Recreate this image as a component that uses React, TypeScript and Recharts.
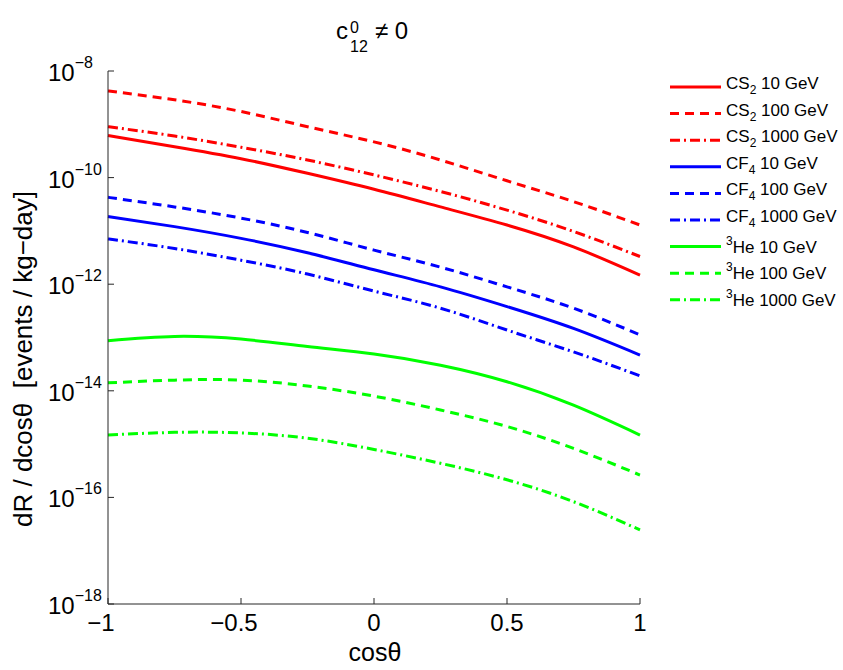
import { LineChart, Line, XAxis, YAxis } from 'recharts';

// cos(theta) sample positions
const cosTheta = [-1, -0.75, -0.5, -0.25, 0, 0.25, 0.5, 0.75, 1];

// log10 of dR/dcos(theta) [events / kg-day]
const cs2_10 = [-9.21, -9.42, -9.645, -9.92, -10.22, -10.55, -10.89, -11.3, -11.83];
const cs2_100 = [-8.375, -8.54, -8.76, -9.045, -9.33, -9.67, -10.06, -10.45, -10.89];
const cs2_1000 = [-9.045, -9.22, -9.43, -9.67, -9.95, -10.26, -10.61, -11.01, -11.48];
const cf4_10 = [-10.73, -10.92, -11.14, -11.41, -11.73, -12.05, -12.42, -12.83, -13.33];
const cf4_100 = [-10.37, -10.55, -10.76, -11.03, -11.36, -11.68, -12.05, -12.45, -12.95];
const cf4_1000 = [-11.15, -11.33, -11.55, -11.81, -12.13, -12.45, -12.86, -13.27, -13.72];
const he3_10 = [-13.06, -12.98, -13.03, -13.17, -13.31, -13.52, -13.83, -14.27, -14.83];
const he3_100 = [-13.85, -13.8, -13.8, -13.91, -14.1, -14.36, -14.67, -15.08, -15.58];
const he3_1000 = [-14.83, -14.78, -14.79, -14.89, -15.1, -15.36, -15.67, -16.08, -16.61];

const xTicks = [-1, -0.5, 0, 0.5, 1];
const yTicks = [1e-18, 1e-16, 1e-14, 1e-12, 1e-10, 1e-8];

// legend text pieces: base, sub/superscript, rest
const series = [
  { key: 'cs2_10', values: cs2_10, color: '#ff0000', dash: undefined, pre: 'CS', script: '2', post: ' 10 GeV', sup: false },
  { key: 'cs2_100', values: cs2_100, color: '#ff0000', dash: '9 6', pre: 'CS', script: '2', post: ' 100 GeV', sup: false },
  { key: 'cs2_1000', values: cs2_1000, color: '#ff0000', dash: '10 4 2 4', pre: 'CS', script: '2', post: ' 1000 GeV', sup: false },
  { key: 'cf4_10', values: cf4_10, color: '#0000ff', dash: undefined, pre: 'CF', script: '4', post: ' 10 GeV', sup: false },
  { key: 'cf4_100', values: cf4_100, color: '#0000ff', dash: '9 6', pre: 'CF', script: '4', post: ' 100 GeV', sup: false },
  { key: 'cf4_1000', values: cf4_1000, color: '#0000ff', dash: '10 4 2 4', pre: 'CF', script: '4', post: ' 1000 GeV', sup: false },
  { key: 'he3_10', values: he3_10, color: '#00ff00', dash: undefined, pre: '', script: '3', post: 'He 10 GeV', sup: true },
  { key: 'he3_100', values: he3_100, color: '#00ff00', dash: '9 6', pre: '', script: '3', post: 'He 100 GeV', sup: true },
  { key: 'he3_1000', values: he3_1000, color: '#00ff00', dash: '10 4 2 4', pre: '', script: '3', post: 'He 1000 GeV', sup: true },
];

const rows = cosTheta.map((c, i) => {
  const row: Record<string, number> = { c };
  series.forEach((s) => {
    row[s.key] = Math.pow(10, s.values[i]);
  });
  return row;
});

const FONT = '"Liberation Sans", Arial, Helvetica, sans-serif';
const AXIS = '#262626';
const LW = 3;

function BottomTick(props: any) {
  const { x, y, payload } = props;
  const v = payload.value as number;
  const digits = String(Math.abs(v));
  let w = 0;
  for (const ch of digits) w += ch === '.' ? 6.7 : 13.35;
  return (
    <g>
      <line x1={x} x2={x} y1={y} y2={y - 6} stroke={AXIS} />
      <text x={x + w / 2} y={y + 27} textAnchor="end" fontSize={24} fontFamily={FONT} fill="#000">
        {(v < 0 ? '\u2212' : '') + digits}
      </text>
    </g>
  );
}

function TopTick(props: any) {
  const { x, y } = props;
  return <line x1={x} x2={x} y1={y} y2={y + 6} stroke={AXIS} />;
}

function LeftTick(props: any) {
  const { x, y, payload } = props;
  const exp = Math.round(Math.log10(payload.value));
  return (
    <g>
      <line x1={x} x2={x + 6} y1={y} y2={y} stroke={AXIS} />
      <text x={x - 60} y={y + 10} fontSize={24} fontFamily={FONT} fill="#000">
        10
        <tspan dy={-13} fontSize={16}>
          {'\u2212' + Math.abs(exp)}
        </tspan>
      </text>
    </g>
  );
}

function RightTick(props: any) {
  const { x, y } = props;
  return <line x1={x} x2={x - 6} y1={y} y2={y} stroke={AXIS} />;
}

export default function App() {
  return (
    <div style={{ position: 'absolute', left: 0, top: 0, width: 843, height: 670, background: '#fff' }}>
      <LineChart width={843} height={670} data={rows} margin={{ top: 71, right: 203, bottom: 36, left: 48 }}>
        <XAxis
          xAxisId="b"
          dataKey="c"
          type="number"
          domain={[-1, 1]}
          ticks={xTicks}
          interval={0}
          height={30}
          tickSize={0}
          tickMargin={0}
          tickLine={false}
          tick={(p: any) => <BottomTick {...p} />}
          axisLine={{ stroke: AXIS }}
        />
        <XAxis
          xAxisId="t"
          orientation="top"
          dataKey="c"
          type="number"
          domain={[-1, 1]}
          ticks={xTicks}
          interval={0}
          height={0}
          tickSize={0}
          tickMargin={0}
          tickLine={false}
          tick={(p: any) => <TopTick {...p} />}
          axisLine={{ stroke: AXIS }}
        />
        <YAxis
          yAxisId="l"
          type="number"
          scale="log"
          domain={[1e-18, 1e-8]}
          allowDataOverflow
          ticks={yTicks}
          interval={0}
          width={60}
          tickSize={0}
          tickMargin={0}
          tickLine={false}
          tick={(p: any) => <LeftTick {...p} />}
          axisLine={{ stroke: AXIS }}
        />
        <YAxis
          yAxisId="r"
          orientation="right"
          type="number"
          scale="log"
          domain={[1e-18, 1e-8]}
          allowDataOverflow
          ticks={yTicks}
          interval={0}
          width={0}
          tickSize={0}
          tickMargin={0}
          tickLine={false}
          tick={(p: any) => <RightTick {...p} />}
          axisLine={{ stroke: AXIS }}
        />
        {series.map((s) => (
          <Line
            key={s.key}
            xAxisId="b"
            yAxisId="l"
            dataKey={s.key}
            type="natural"
            stroke={s.color}
            strokeWidth={LW}
            strokeDasharray={s.dash}
            dot={false}
            activeDot={false}
            isAnimationActive={false}
          />
        ))}
      </LineChart>
      <svg
        width={843}
        height={670}
        style={{ position: 'absolute', left: 0, top: 0, pointerEvents: 'none' }}
        fontFamily={FONT}
      >
        {/* title */}
        <text x={336} y={39} fontSize={24}>c</text>
        <text x={350} y={33} fontSize={16}>0</text>
        <text x={350} y={52} fontSize={16}>12</text>
        <text x={375} y={39} fontSize={24} style={{ whiteSpace: 'pre' }}>{'\u2260 0'}</text>

        {/* axis labels */}
        <text x={375} y={661} fontSize={25} textAnchor="middle">cos&#952;</text>
        <text
          x={0}
          y={0}
          fontSize={26}
          textAnchor="middle"
          transform="translate(32 359) rotate(-90)"
          style={{ whiteSpace: 'pre' }}
        >
          {'dR / dcos\u03b8  [events / kg\u2212day]'}
        </text>

        {/* legend */}
        {series.map((s, i) => {
          const ly = 87 + i * 26.6;
          return (
            <g key={s.key}>
              <line x1={670} x2={721} y1={ly} y2={ly} stroke={s.color} strokeWidth={LW} strokeDasharray={s.dash} />
              {s.sup ? (
                <text x={726} y={ly + 6} fontSize={17} style={{ whiteSpace: 'pre' }}>
                  <tspan dy={-8} fontSize={12}>{s.script}</tspan>
                  <tspan dy={8}>{s.post}</tspan>
                </text>
              ) : (
                <text x={726} y={ly + 2} fontSize={17} style={{ whiteSpace: 'pre' }}>
                  {s.pre}
                  <tspan dy={5} fontSize={12}>{s.script}</tspan>
                  <tspan dy={-5}>{s.post}</tspan>
                </text>
              )}
            </g>
          );
        })}
      </svg>
    </div>
  );
}
